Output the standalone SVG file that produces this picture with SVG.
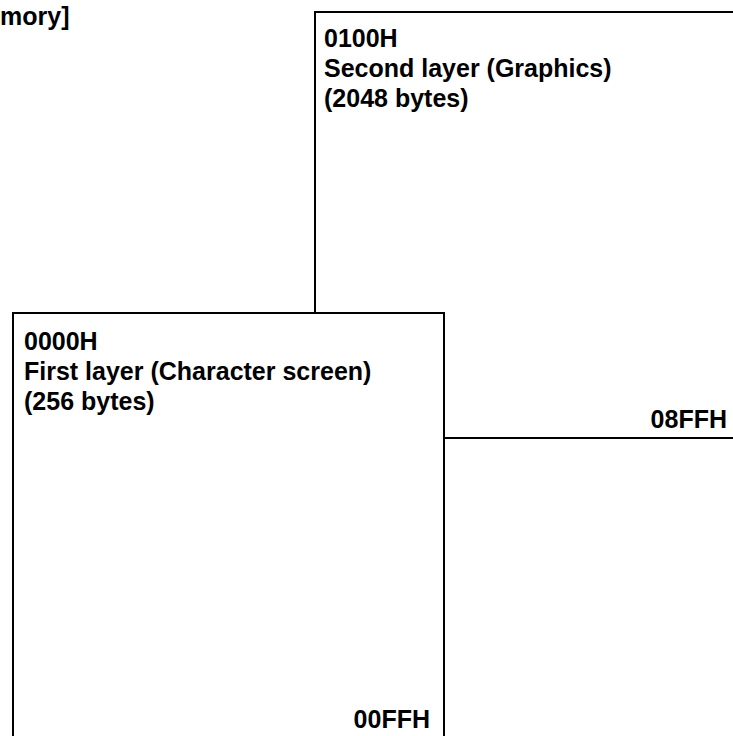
<svg xmlns="http://www.w3.org/2000/svg" width="733" height="736" viewBox="0 0 733 736">
<style>
.t{font-family:"Liberation Sans",Arial,sans-serif;font-size:25px;font-weight:bold;fill:#000}
.c{stroke:#000;stroke-width:2;fill:none}
</style>
<rect width="733" height="736" fill="#fff"/>
<text class="t" x="0" y="25">mory]</text>
<g id="second-layer">
<path class="c" d="M315,313 V12 H740"/>
<path class="c" d="M443,438 H740"/>
<text class="t" x="324" y="47">0100H</text>
<text class="t" x="324" y="77">Second layer (Graphics)</text>
<text class="t" x="324" y="107">(2048 bytes)</text>
<text class="t" x="727" y="428" text-anchor="end">08FFH</text>
</g>
<g id="first-layer">
<path class="c" d="M13,745 V313 H444 V745"/>
<text class="t" x="24" y="350">0000H</text>
<text class="t" x="24" y="380">First layer (Character screen)</text>
<text class="t" x="24" y="410">(256 bytes)</text>
<text class="t" x="430" y="728" text-anchor="end">00FFH</text>
</g>
<g id="connectors"></g>
</svg>
